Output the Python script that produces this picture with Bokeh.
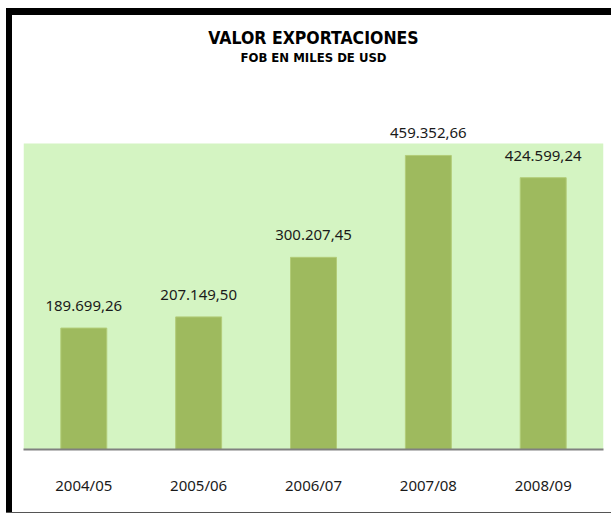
from bokeh.plotting import figure
from bokeh.models import ColumnDataSource, Label, BoxAnnotation, Range1d, FactorRange
from bokeh.core.properties import value
from bokeh.embed import file_html
from bokeh.resources import INLINE

periods = ["2004/05", "2005/06", "2006/07", "2007/08", "2008/09"]
exports = [189699.26, 207149.50, 300207.45, 459352.66, 424599.24]
title_text = "VALOR EXPORTACIONES"
subtitle_text = "FOB EN MILES DE USD"
green_top = 478000   # top of the shaded plotting area (value units)
range_top = 678000   # top of the drawing frame (value units)


def es_fmt(v):
    s = f"{v:,.2f}"
    return s.replace(",", "X").replace(".", ",").replace("X", ".")


labels = [es_fmt(v) for v in exports]
src = ColumnDataSource(dict(x=periods, y=exports, lab=labels))

NUM_FONT = "Noto Sans"
TITLE_FONT = "DejaVu Sans Condensed"

p = figure(x_range=FactorRange(*periods, range_padding=0.025,
                               range_padding_units="absolute"),
           y_range=Range1d(0, range_top), width=599, height=497,
           output_backend="svg", toolbar_location=None, y_axis_location=None,
           min_border_left=11, min_border_right=8, min_border_top=0,
           min_border_bottom=63)
p.styles = {"margin-left": "12px", "margin-top": "15px",
            "box-shadow": ("-6px 0 0 0 black, 0 -7px 0 0 black, "
                           "-6px -7px 0 0 black, 0 1px 0 0 #555555, "
                           "-6px 1px 0 0 #555555")}
p.background_fill_color = "white"
p.border_fill_color = "white"
p.outline_line_color = None
p.grid.visible = False

p.add_layout(BoxAnnotation(bottom=0, top=green_top, fill_color="#D4F4C2",
                           fill_alpha=1, line_color=None, level="underlay"))

p.vbar(x="x", top="y", width=0.4, source=src, fill_color="#9EBA5E",
       line_color="#B2CC78", line_width=1)
p.text(x="x", y="y", text="lab", source=src, text_align="center",
       text_baseline="alphabetic", y_offset=-22, text_font=value(NUM_FONT),
       text_font_size="15px", text_color="#1a1a1a")

ax = p.xaxis[0]
ax.axis_line_color = "#808080"
ax.axis_line_width = 2
ax.major_tick_line_color = None
ax.minor_tick_line_color = None
ax.major_label_text_font = NUM_FONT
ax.major_label_text_font_size = "15px"
ax.major_label_text_color = "#1a1a1a"
ax.major_label_standoff = 19

p.add_layout(Label(x=290, y=412, x_units="screen", y_units="screen",
                   text=title_text, text_align="center", text_baseline="middle",
                   text_font=TITLE_FONT, text_font_style="bold",
                   text_font_size="17.5px", text_color="black"))
p.add_layout(Label(x=290, y=392, x_units="screen", y_units="screen",
                   text=subtitle_text, text_align="center", text_baseline="middle",
                   text_font=TITLE_FONT, text_font_style="bold",
                   text_font_size="13px", text_color="black"))

open("out.html", "w").write(file_html(p, INLINE))
